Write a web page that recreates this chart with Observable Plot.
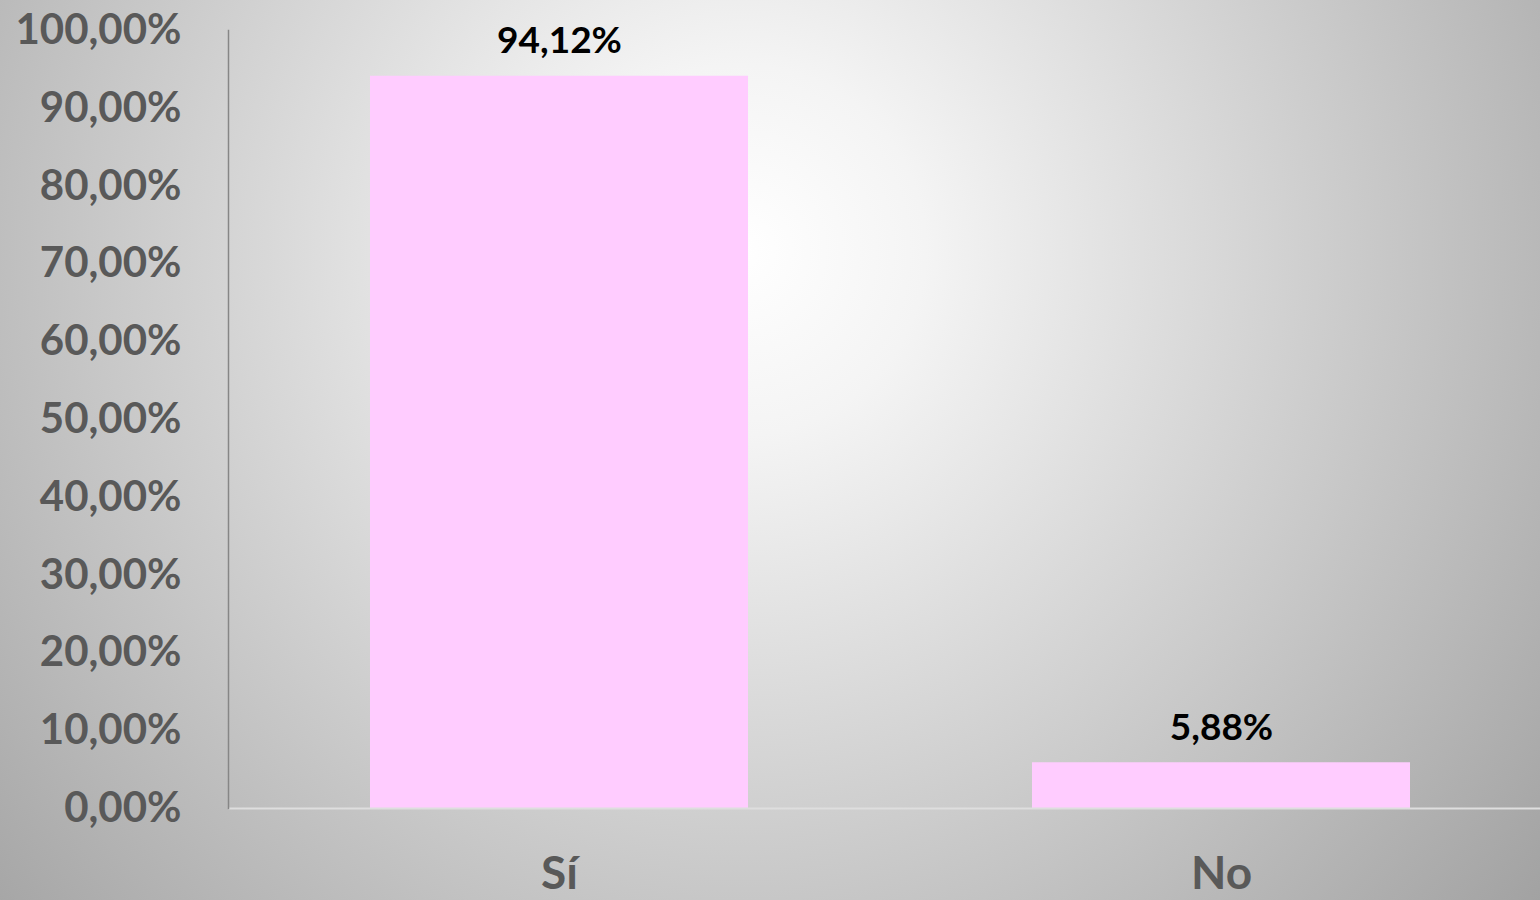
<!DOCTYPE html>
<html>
<head>
<meta charset="utf-8">
<script src="https://cdn.jsdelivr.net/npm/d3@7"></script>
<script src="https://cdn.jsdelivr.net/npm/@observablehq/plot@0.6"></script>
<style>
  html, body { margin: 0; padding: 0; }
  body {
    width: 1540px; height: 900px; overflow: hidden;
    background: radial-gradient(circle farthest-corner at 740px 250px, #ffffff 0%, #f4f4f4 18%, #a2a2a2 100%);
    font-family: Lato, "Open Sans", sans-serif;
  }
  #chart svg { display: block; background: transparent; }
</style>
</head>
<body>
<div id="chart"></div>
<script>
const categories = ["Sí", "No"];
const values = [0.9412, 0.0588];
const yTicks = [0, 0.1, 0.2, 0.3, 0.4, 0.5, 0.6, 0.7, 0.8, 0.9, 1.0];

const data = categories.map((c, i) => ({category: c, value: values[i]}));
const fmt = d => (d * 100).toFixed(2).replace(".", ",") + "%";

const chart = Plot.plot({
  width: 1540,
  height: 900,
  marginLeft: 228,
  marginRight: 0,
  marginTop: 30,
  marginBottom: 92,
  style: {background: "transparent", fontFamily: "Lato, 'Open Sans', sans-serif", overflow: "visible"},
  x: {domain: categories, range: [228, 1552], paddingInner: 0.429, paddingOuter: 0.2145, label: null},
  y: {domain: [0, 1], label: null},
  marks: [
    Plot.barY(data, {x: "category", y: "value", fill: "#ffccff"}),
    Plot.ruleY([0], {stroke: "#dedede", strokeWidth: 2}),
    Plot.frame({anchor: "left", stroke: "#868686", strokeWidth: 1.5}),
    Plot.axisY({ticks: yTicks, tickFormat: fmt, tickSize: 0, tickPadding: 47, fontSize: 42, fontWeight: "bold", fill: "#595959", label: null}),
    Plot.axisX({tickSize: 0, tickPadding: 48, fontSize: 46, fontWeight: "bold", fill: "#595959", label: null}),
    Plot.text(data, {x: "category", y: "value", text: d => fmt(d.value), dy: -35, fontSize: 37, fontWeight: "bold", fill: "#000000"})
  ]
});
document.getElementById("chart").appendChild(chart);
</script>
</body>
</html>
